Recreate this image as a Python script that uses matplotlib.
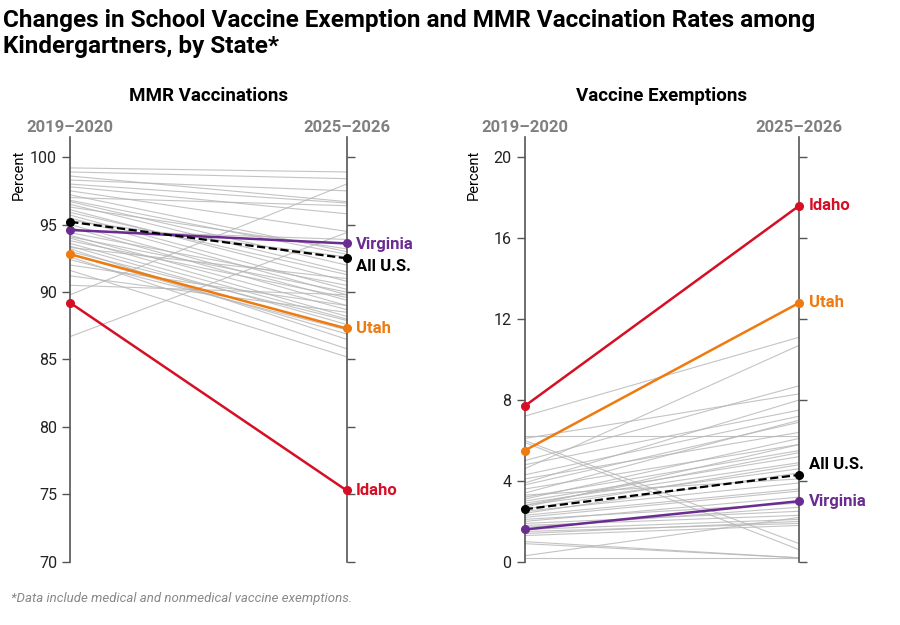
import matplotlib
matplotlib.use("Agg")
import matplotlib.pyplot as plt

plt.rcParams['font.family'] = ['Roboto', 'DejaVu Sans']

periods = ["2019\u20132020", "2025\u20132026"]

# MMR vaccination rates, other states (start, end)
mmr_start = [99.2, 98.9, 98.6, 98.3, 98.0, 97.8, 97.5, 97.2, 97.0, 96.8, 96.7, 96.5, 96.3,
             96.1, 95.9, 95.7, 95.5, 95.3, 95.0, 94.8, 94.6, 94.4, 94.2, 94.0, 93.8, 93.6,
             93.4, 93.2, 93.0, 92.8, 92.6, 92.4, 92.0, 91.6, 91.2, 90.5, 89.8, 86.7, 93.3, 94.1]
mmr_end = [98.9, 98.4, 96.7, 97.5, 96.6, 95.8, 94.5, 93.0, 96.4, 92.8, 92.0, 91.5, 93.2,
           90.8, 91.3, 90.2, 89.8, 92.6, 89.4, 89.0, 93.9, 90.5, 88.7, 88.2, 89.6, 88.0,
           87.6, 86.5, 87.9, 86.9, 85.8, 87.2, 89.0, 85.2, 88.5, 89.8, 98.0, 94.4, 91.0, 90.0]
mmr_us = [95.2, 92.5]
mmr_va = [94.6, 93.6]
mmr_ut = [92.8, 87.3]
mmr_id = [89.2, 75.3]

# Vaccine exemptions, other states (start, end)
ex_start = [7.2, 6.2, 6.1, 6.0, 5.9, 5.0, 4.8, 4.6, 4.3, 4.1, 3.9, 3.8, 3.6, 3.4, 3.2, 3.1,
            3.0, 2.9, 2.8, 2.7, 2.6, 2.5, 2.4, 2.3, 2.2, 2.1, 2.0, 1.9, 1.8, 1.7, 1.6, 1.5,
            1.4, 1.3, 1.0, 0.9, 0.3, 0.2, 2.8, 3.3]
ex_end = [11.1, 6.2, 8.3, 0.9, 0.6, 8.7, 7.5, 10.7, 7.2, 6.4, 8.0, 6.9, 5.8, 7.0, 5.5, 6.1,
          5.2, 4.9, 4.6, 5.8, 4.8, 3.9, 4.4, 3.6, 3.5, 2.9, 3.2, 2.5, 2.3, 2.7, 2.1, 1.9,
          2.0, 1.8, 0.2, 0.2, 2.2, 0.2, 5.4, 4.1]
ex_us = [2.6, 4.3]
ex_va = [1.6, 3.0]
ex_ut = [5.5, 12.8]
ex_id = [7.7, 17.6]

RED = "#d50f25"
ORANGE = "#ee7a10"
PURPLE = "#6b2c91"
GRAY = "#b5b5b5"
AXC = "#555555"

fig = plt.figure(figsize=(9, 6.25), dpi=100)

fig.text(0.003, 0.985, "Changes in School Vaccine Exemption and MMR Vaccination Rates among\nKindergartners, by State*",
         fontsize=17.5, fontweight='bold', va='top', ha='left', linespacing=1.15)
fig.text(0.012, 0.037, "*Data include medical and nonmedical vaccine exemptions.",
         fontsize=9.5, style='italic', color='#888888', ha='left')


def panel(rect, title, starts, ends, us, va, ut, idh, ylim, ticks, labels):
    ax = fig.add_axes(rect)
    x = [0, 1]
    for s, e in zip(starts, ends):
        ax.plot(x, [s, e], color=GRAY, lw=0.8, alpha=0.8, zorder=1)
    specs = [(idh, RED, "Idaho", '-'), (ut, ORANGE, "Utah", '-'),
             (va, PURPLE, "Virginia", '-'), (us, "black", "All U.S.", '--')]
    for vals, c, name, ls in specs:
        ax.plot(x, vals, color=c, lw=1.8 if ls == '-' else 1.6, ls=ls, marker='o', ms=5.5,
                clip_on=False, zorder=3)
        ax.text(1.035, vals[1] + labels.get(name, 0), name, color=c, fontsize=12,
                fontweight='bold', va='center', ha='left', transform=ax.transData)
    ax.set_xlim(0, 1)
    ax.set_ylim(*ylim)
    ax.set_yticks(ticks)
    ax.tick_params(left=True, right=True, labelright=False, bottom=False, labelbottom=False,
                   labelsize=11.5, colors='#222222', length=6, width=1, direction='out')
    ax.tick_params(axis='y', colors=AXC, labelcolor='#222222')
    for s in ['top', 'bottom']:
        ax.spines[s].set_visible(False)
    for s in ['left', 'right']:
        ax.spines[s].set_color(AXC)
        ax.spines[s].set_linewidth(1.2)
    ax.set_facecolor('none')
    ax.set_ylabel("Percent", fontsize=10.5, labelpad=4)
    ax.yaxis.set_label_coords(-0.16, 0.91)
    ax.text(0, 1.005, periods[0], transform=ax.transAxes, ha='center', va='bottom',
            fontsize=12, fontweight='bold', color='#808080')
    ax.text(1, 1.005, periods[1], transform=ax.transAxes, ha='center', va='bottom',
            fontsize=12, fontweight='bold', color='#808080')
    ax.text(0.5, 1.075, title, transform=ax.transAxes, ha='center', va='bottom',
            fontsize=13.5, fontweight='bold')
    return ax


panel([0.078, 0.101, 0.307, 0.68], "MMR Vaccinations", mmr_start, mmr_end,
      mmr_us, mmr_va, mmr_ut, mmr_id, (70, 101.5), [70, 75, 80, 85, 90, 95, 100],
      {"All U.S.": -0.6, "Virginia": -0.1})
panel([0.583, 0.101, 0.305, 0.68], "Vaccine Exemptions", ex_start, ex_end,
      ex_us, ex_va, ex_ut, ex_id, (0, 21), [0, 4, 8, 12, 16, 20], {"All U.S.": 0.5})

fig.savefig("out.png", dpi=100)
